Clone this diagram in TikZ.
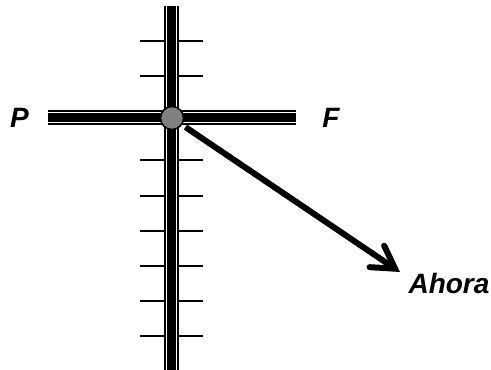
\documentclass[tikz,border=0pt]{standalone}
\usepackage{fontspec}
\setmainfont{Liberation Sans}
\usetikzlibrary{arrows.meta,positioning}
\definecolor{colDot}{HTML}{808080}
\tikzset{
  %% double rail (black edge, white gap, black core)
  rail/.style={
    draw=black, line width=15pt,
    postaction={draw=white, line width=11pt},
    postaction={draw=black, line width=9pt}
  },
  %% small tick mark
  tick/.style={draw=black, line width=2.2pt},
  %% big italic label
  lbl/.style={font=\fontsize{28}{30}\selectfont\bfseries\itshape, inner sep=0pt},
  %% arrow
  pointer/.style={-{Straight Barb[length=22pt,width=26pt,line cap=round]},
                  line width=6pt, shorten <=4pt}
}

\begin{document}
\begin{tikzpicture}[x=1pt, y=-1pt]
\useasboundingbox (0,0) rectangle (491,370);

% ════════════════════════════════════════════════════════════
% TICKS
% ════════════════════════════════════════════════════════════
\foreach \ty in {41,76,160,196,231,266,301,336}
  \draw[tick] (140,\ty) -- (203,\ty);

% ════════════════════════════════════════════════════════════
% RAILS
% ════════════════════════════════════════════════════════════
\coordinate (top)    at (171.5,6);
\coordinate (bottom) at (171.5,372);
\coordinate (left)   at (48,117.5);
\coordinate (right)  at (296,117.5);
\draw[rail] (top) -- (bottom);
\draw[rail] (left) -- (right);

% present point
\node[circle, draw=black, line width=1.5pt, fill=colDot,
      minimum size=23pt, inner sep=0pt] (now) at (172,118) {};

% ════════════════════════════════════════════════════════════
% LABELS
% ════════════════════════════════════════════════════════════
\node[lbl] (past)   at (19.5,117.5) {P};
\node[lbl] (future) at (331,117.5)  {F};
\node[lbl] (ahora)  at (449,283)    {Ahora};

% ════════════════════════════════════════════════════════════
% ARROW
% ════════════════════════════════════════════════════════════
\coordinate (tip) at (400,272);
\draw[pointer] (now) -- (tip);

\end{tikzpicture}
\end{document}
